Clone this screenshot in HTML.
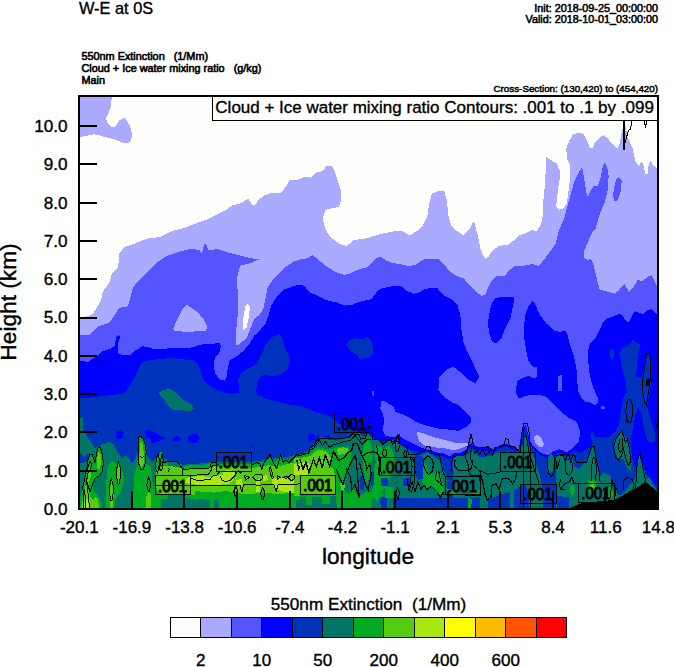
<!DOCTYPE html><html><head><meta charset="utf-8"><title>W-E at 0S</title><style>html,body{margin:0;padding:0;background:#fff}body{width:674px;height:667px;overflow:hidden}svg{display:block}text{font-family:"Liberation Sans",sans-serif;fill:#000}</style></head><body>
<svg width="674" height="667" viewBox="0 0 674 667">
<rect width="674" height="667" fill="#fff"/>
<defs><clipPath id="pc"><rect x="79" y="96" width="579" height="413"/></clipPath></defs>
<g clip-path="url(#pc)">
<rect x="79" y="96" width="579" height="413" fill="#fefefc"/>
<g shape-rendering="crispEdges">
<polygon points="78.0,510.0 78.0,318.2 79.0,318.2 91.5,315.0 93.7,312.5 97.5,306.5 101.2,299.7 102.7,292.2 105.7,287.7 109.5,282.5 111.7,274.2 114.7,271.2 117.7,267.5 119.2,260.0 119.5,253.4 124.0,247.4 136.0,243.0 148.0,238.4 160.0,237.0 172.0,231.0 184.0,228.0 196.0,223.4 208.0,219.0 220.0,213.0 226.0,210.0 232.0,205.4 241.0,203.3 248.4,198.5 251.4,204.0 254.4,205.4 259.0,199.4 265.0,195.0 270.0,193.4 280.5,193.4 286.5,186.0 289.5,180.0 297.0,180.0 304.5,177.0 310.5,177.6 316.5,172.5 322.5,171.0 327.0,165.6 331.5,165.6 334.5,171.0 337.5,180.0 340.5,189.0 341.0,201.0 339.0,207.0 331.5,208.4 325.5,210.0 322.5,219.0 325.5,229.4 330.0,237.0 340.5,244.4 346.5,246.0 354.0,240.0 366.0,238.4 381.0,234.0 393.0,231.5 402.0,231.0 409.4,235.4 417.0,231.0 423.0,225.0 427.4,216.0 429.0,204.0 432.0,193.4 438.0,191.3 444.0,190.4 447.0,201.0 448.4,216.0 451.4,226.4 456.0,230.3 463.4,235.4 470.0,228.5 473.0,222.0 474.5,223.4 477.5,234.0 480.5,249.0 483.5,256.3 485.6,258.8 488.8,256.3 491.0,252.0 498.5,246.0 509.0,244.4 519.5,235.4 526.3,232.9 531.5,230.3 536.8,230.8 541.0,224.5 543.1,214.0 543.5,199.3 545.2,182.5 546.2,157.3 551.5,160.4 556.7,163.6 559.9,170.9 559.5,180.4 557.8,190.9 556.7,201.4 556.1,206.6 558.8,209.8 563.0,208.7 566.6,203.5 568.3,193.0 570.0,178.3 570.4,165.7 567.2,159.4 566.2,148.9 569.3,140.5 573.5,133.8 580.9,132.9 584.0,134.6 587.2,141.5 590.3,148.5 592.4,148.4 594.8,142.4 599.6,137.6 603.8,135.0 608.0,138.8 612.8,144.8 617.0,149.0 619.4,144.8 621.8,131.6 623.0,128.0 624.8,126.2 626.0,127.4 627.2,136.4 629.0,140.0 632.6,148.4 634.4,156.8 636.2,162.8 638.6,165.8 641.6,162.2 643.4,164.0 645.2,173.6 647.6,173.6 648.8,164.0 650.6,161.0 653.6,165.8 657.0,168.2 659.0,168.2 659.0,510.0" fill="#aaaaff" />
<polygon points="79.0,96.0 112.0,96.0 110.5,108.0 106.0,118.5 108.0,124.0 112.0,127.5 116.0,126.0 119.5,120.0 124.0,118.0 127.0,121.0 130.0,126.0 132.4,135.0 131.0,140.0 128.5,142.5 124.0,143.4 115.0,139.5 100.0,135.6 94.0,134.4 88.0,135.6 79.0,137.4" fill="#aaaaff" />
<polygon points="78.0,510.0 78.0,335.0 79.0,335.0 89.2,335.3 93.7,331.2 99.0,326.0 107.2,323.7 111.0,320.7 116.2,312.5 119.2,307.7 127.5,306.5 129.7,300.5 131.2,294.5 132.7,287.7 137.5,282.0 145.0,274.4 151.0,268.4 157.0,262.4 166.0,256.4 178.0,252.0 190.0,249.0 199.0,249.8 202.0,253.4 204.0,244.4 206.4,244.4 208.5,250.4 217.0,249.0 226.0,252.0 238.0,255.0 250.0,258.0 259.0,259.4 250.0,263.3 241.0,265.4 239.3,268.9 237.2,277.3 237.6,292.0 238.2,308.8 237.2,321.4 235.5,334.0 235.5,343.4 237.2,345.5 241.4,342.4 246.6,338.2 250.8,327.7 254.0,319.3 259.2,315.0 263.4,308.8 265.5,298.3 267.6,287.8 272.9,279.4 279.2,273.0 285.5,266.8 293.8,261.5 300.0,259.4 307.3,258.4 312.6,255.2 316.8,258.4 325.2,265.7 335.7,272.0 344.1,274.8 349.3,274.1 356.7,270.0 367.2,267.2 372.4,262.6 376.6,258.0 380.8,256.9 386.1,260.5 392.4,263.0 400.8,264.3 409.2,266.4 415.5,264.7 423.8,259.4 432.2,258.8 438.4,259.4 443.6,263.6 449.9,272.0 457.3,276.2 463.6,278.3 468.8,284.6 475.1,290.9 481.4,295.8 485.0,295.1 487.7,288.8 491.9,280.4 497.2,275.6 504.5,276.2 508.7,271.0 514.0,266.4 522.4,265.7 526.3,265.4 532.6,263.9 538.9,266.0 545.2,258.0 551.5,249.6 555.7,243.3 558.8,230.8 564.1,218.2 569.3,199.3 574.6,180.4 580.9,168.8 582.3,167.4 584.0,178.3 586.1,190.9 587.6,196.8 590.3,190.9 593.5,186.3 598.1,185.6 600.8,177.2 602.9,165.7 604.6,163.2 607.1,166.7 608.6,175.1 608.2,188.8 605.0,201.4 599.8,214.0 595.6,228.7 591.4,233.9 588.2,241.3 584.0,251.7 584.0,258.0 587.7,260.1 590.9,258.8 593.0,262.6 595.1,271.0 597.2,280.4 599.9,289.9 605.6,290.9 610.8,293.0 615.0,293.7 619.2,289.9 622.4,285.7 624.5,284.2 626.6,287.8 629.1,292.0 631.8,288.8 635.0,284.6 638.1,279.4 641.3,281.5 644.4,279.4 648.6,276.2 651.8,275.2 653.9,280.4 657.0,285.7 659.0,285.7 659.0,510.0" fill="#5555ff" />
<polygon points="618.7,177.2 621.8,180.4 620.8,190.9 618.2,199.3 614.9,201.8 613.0,197.2 614.0,187.7 616.1,179.3" fill="#5555ff" />
<polygon points="186.8,305.0 191.0,307.7 197.3,311.9 203.6,319.3 207.4,326.6 205.7,330.8 186.8,331.9 174.2,330.8 173.1,328.7 178.4,317.2 182.6,308.8" fill="#aaaaff" />
<polygon points="247.7,303.5 249.8,306.7 249.3,315.0 246.6,327.7 243.5,329.8 242.8,321.4 244.5,310.9 245.6,305.6" fill="#fefefc" />
<polygon points="78.0,510.0 78.0,360.5 79.0,360.5 88.0,362.0 90.0,360.0 97.5,356.0 102.0,351.5 109.5,349.2 114.7,346.2 115.5,341.0 117.0,335.7 119.2,335.0 120.0,338.0 117.7,344.0 118.5,353.0 121.5,355.2 130.5,355.2 135.0,350.7 142.5,346.2 147.0,347.0 151.5,348.5 159.0,349.2 170.0,348.2 188.9,348.2 201.5,344.5 212.0,343.8 219.3,343.0 221.0,345.5 219.3,352.9 215.1,357.0 213.7,364.4 215.1,373.8 220.4,380.1 225.0,380.6 227.1,376.0 227.7,367.5 229.8,360.2 237.2,356.0 243.5,350.8 249.8,343.4 254.0,336.0 260.3,329.8 265.5,323.5 268.7,315.0 270.8,306.7 277.0,296.2 283.3,289.9 291.7,286.7 300.0,284.6 304.2,285.7 309.4,292.0 318.9,296.6 327.3,300.4 336.7,302.5 345.1,305.6 351.4,305.0 360.9,301.4 371.4,299.3 374.5,295.1 377.7,290.9 382.9,288.2 392.4,286.1 400.8,286.1 407.0,290.9 413.3,293.7 418.6,293.0 424.9,288.8 434.3,287.8 437.3,288.2 443.6,295.1 452.0,299.3 457.3,304.6 460.4,315.0 461.5,329.8 463.6,342.4 467.8,352.9 473.0,363.3 479.3,377.0 475.1,383.3 468.8,380.1 461.5,372.8 453.1,366.5 446.8,369.6 439.4,377.0 438.4,390.0 439.9,391.8 444.7,397.7 452.5,402.5 460.3,406.4 466.2,412.3 471.1,418.1 471.1,423.0 466.2,426.9 458.4,430.8 450.6,429.8 442.8,428.9 439.8,428.9 432.0,426.9 424.2,425.0 414.4,421.1 410.5,418.1 402.7,414.2 395.9,412.3 393.0,406.4 385.2,401.6 381.3,400.6 380.3,408.4 383.2,414.2 384.2,422.0 382.3,429.8 385.2,435.7 393.0,437.6 398.8,435.7 404.7,439.6 412.5,443.5 420.3,447.4 430.0,450.3 439.8,453.2 442.8,453.2 449.6,456.2 454.5,453.2 462.3,452.3 467.2,448.4 470.1,443.5 474.0,445.4 479.8,447.4 489.6,447.4 493.5,449.3 499.3,445.4 505.2,443.5 513.0,446.4 518.8,449.3 520.8,437.6 522.7,427.9 525.6,425.0 528.6,435.7 530.5,441.5 534.4,447.4 540.3,452.3 547.8,455.2 553.6,451.3 559.5,449.3 567.3,452.3 573.1,447.4 579.0,441.5 580.0,431.8 577.0,422.0 569.2,418.1 561.4,412.3 553.6,404.5 545.8,396.7 540.0,394.7 536.4,394.7 526.6,395.7 518.8,398.6 515.9,392.8 516.1,390.0 517.1,381.2 522.4,378.0 528.7,376.0 535.0,378.5 537.0,376.0 537.0,367.5 532.9,366.5 528.7,361.3 526.6,352.9 524.5,340.3 523.8,327.7 525.5,314.0 528.7,305.6 532.9,300.8 536.0,305.6 539.2,314.0 546.5,323.5 553.8,330.8 560.1,331.9 564.3,330.8 565.0,330.0 567.4,335.0 569.1,341.5 572.4,351.4 574.8,359.7 576.5,369.6 577.3,381.1 578.1,391.0 581.4,397.6 584.7,401.7 590.5,402.6 595.5,405.0 597.6,403.4 597.9,398.4 595.5,392.7 592.2,384.4 589.7,374.5 588.4,363.0 588.0,351.4 589.4,344.8 590.9,342.4 596.1,337.1 599.3,330.8 602.4,323.5 607.7,318.2 614.0,316.1 619.2,314.0 622.4,315.0 625.5,320.3 628.7,322.4 631.8,316.1 635.0,310.9 639.2,313.0 643.4,314.0 646.5,310.9 650.7,309.2 653.9,310.9 657.0,315.0 659.0,315.0 659.0,510.0" fill="#0000ff" />
<polygon points="495.1,298.3 503.5,296.6 513.5,296.6 513.5,302.5 510.8,317.2 505.6,327.7 501.4,338.2 496.1,343.4 491.9,341.3 488.8,331.9 488.1,321.4 489.8,310.9 491.9,303.5" fill="#0000ff" />
<polygon points="558.3,376.0 561.5,375.0 562.0,391.0 558.3,391.0" fill="#5555ff" />
<polygon points="601.0,406.5 603.0,405.8 605.0,407.0 604.5,409.0 601.5,409.0" fill="#5555ff" />
<polygon points="371.5,392.0 373.0,390.8 374.5,392.5 374.0,395.7 372.0,395.0" fill="#5555ff" />
<polygon points="417.3,431.8 424.2,433.7 432.0,436.7 439.8,438.6 442.8,439.6 450.6,441.5 458.4,443.5 467.2,442.5 468.1,445.4 460.3,448.4 454.5,450.3 448.6,449.3 442.8,447.4 440.0,448.6 435.9,447.4 424.2,445.4 419.3,441.5 417.3,435.7" fill="#aaaaff" />
<polygon points="533.4,436.7 537.3,434.7 541.2,437.6 543.8,443.5 543.2,447.4 538.3,446.4 535.4,442.5" fill="#aaaaff" />
<polygon points="78.0,510.0 78.0,398.6 79.0,398.6 88.6,397.7 97.4,396.7 106.2,395.7 114.0,394.7 123.7,393.8 127.6,388.9 130.6,385.0 133.0,380.0 137.5,371.0 142.0,362.0 154.0,359.6 170.0,358.1 182.6,359.2 194.1,360.2 198.3,364.4 201.5,373.8 203.6,380.1 208.8,385.4 214.5,388.9 224.2,392.8 232.0,394.4 239.8,392.8 239.3,390.0 238.2,380.1 241.4,372.8 247.7,368.6 256.1,364.4 260.3,357.0 264.5,346.6 270.8,338.2 279.2,334.0 282.3,338.2 284.4,346.6 288.6,355.0 289.6,361.3 287.5,369.6 281.3,373.8 272.9,376.0 262.4,374.9 258.2,380.1 256.1,390.0 257.4,394.7 265.2,398.6 276.9,401.6 288.6,404.5 300.3,406.4 312.0,410.3 315.0,412.3 324.7,414.2 334.5,420.1 344.2,426.9 354.0,430.8 365.7,433.7 373.5,438.6 381.3,441.5 389.1,440.6 396.9,438.6 400.8,443.5 406.6,448.4 416.4,451.3 424.2,452.3 432.0,454.2 435.0,455.5 442.8,456.5 449.6,459.5 454.5,456.5 462.3,455.5 467.2,451.5 470.1,447.0 474.0,448.5 479.8,450.5 489.6,450.5 493.5,452.5 499.3,448.5 505.2,446.5 513.0,449.5 518.8,452.5 520.8,441.0 522.7,431.0 525.6,428.5 528.6,439.0 530.5,444.5 534.4,450.5 540.3,455.5 547.8,458.5 553.6,454.5 559.5,452.5 567.3,455.5 573.1,450.3 580.9,453.2 586.8,449.3 592.6,443.5 591.1,437.6 591.7,430.8 595.6,436.7 602.4,437.6 610.2,436.7 615.0,431.8 618.9,424.0 620.9,410.3 623.8,396.7 626.8,392.7 626.0,382.8 623.5,372.9 621.0,364.6 620.2,353.1 622.7,347.3 628.4,345.7 632.6,340.2 640.0,344.8 637.5,359.7 636.2,376.2 641.6,377.8 644.1,367.9 645.8,354.7 649.9,354.7 651.5,371.2 650.7,386.1 648.2,399.3 647.2,406.5 649.7,416.7 654.8,432.0 654.8,442.2 648.5,442.2 644.6,432.0 642.1,416.7 638.3,406.5 635.7,414.2 633.2,427.0 630.5,439.3 631.2,449.7 632.7,458.6 634.2,464.5 637.2,470.4 643.1,471.9 649.0,476.4 652.0,482.3 656.4,485.3 659.0,487.0 659.0,487.0 659.0,510.0" fill="#0033bb" />
<polygon points="346.2,344.5 349.3,340.3 354.6,338.2 363.0,339.2 367.2,337.1 372.4,342.4 372.8,353.9 369.3,357.5 364.0,358.1 360.9,360.8 356.7,355.0 350.4,350.8" fill="#0033bb" />
<polygon points="610.3,349.8 613.6,349.0 614.4,354.7 612.4,360.5 610.3,356.4" fill="#0033bb" />
<polygon points="307.5,436.0 310.0,433.8 314.0,434.0 316.0,437.0 314.0,440.4 309.5,440.6" fill="#0000ff" />
<polygon points="250.5,445.5 252.0,444.8 253.2,446.3 252.0,447.8 250.6,447.2" fill="#0000ff" />
<polygon points="326.0,436.5 329.0,436.0 330.0,438.5 327.0,439.5" fill="#0000ff" />
<polygon points="116.9,431.8 120.8,428.9 123.7,431.8 122.8,437.6 117.9,439.6 115.9,436.7" fill="#0000ff" />
<polygon points="145.2,430.8 148.1,429.4 152.0,430.8 156.9,433.7 162.7,436.7 166.6,438.0 160.8,440.6 154.9,442.5 152.0,443.5 150.0,438.6 146.2,437.6" fill="#0000ff" />
<polygon points="172.5,438.0 177.3,436.0 181.2,438.6 177.3,441.5 173.4,440.6" fill="#0000ff" />
<polygon points="188.1,436.7 192.9,433.7 197.8,434.7 199.8,438.6 196.8,442.5 192.0,443.5 188.1,440.6" fill="#0000ff" />
<polygon points="158.8,392.8 162.7,389.9 170.5,388.9 176.4,392.8 184.2,400.6 192.0,404.5 193.9,408.4 190.0,411.3 180.3,410.0 172.5,410.3 168.6,406.4 164.7,400.6 160.8,396.7" fill="#007766" />
<polygon points="78.0,510.0 78.0,417.2 79.0,417.2 82.8,418.1 83.2,430.8 87.7,437.6 93.5,445.4 94.5,448.4 100.3,445.4 109.1,441.5 114.0,444.5 116.9,451.3 121.8,458.1 125.7,455.2 128.6,458.1 132.5,463.0 135.4,459.1 138.4,449.3 139.3,437.6 142.3,438.6 145.2,449.3 147.1,457.1 153.0,462.0 155.9,459.1 160.8,451.3 162.7,458.1 168.6,461.0 178.3,461.0 182.2,464.9 192.0,464.0 205.0,463.0 206.7,462.6 214.5,462.0 251.5,462.0 259.3,461.0 269.1,459.1 276.9,458.1 284.7,457.5 292.5,455.6 300.3,453.2 308.1,451.3 312.0,445.4 319.8,438.6 320.8,436.7 328.6,439.6 336.4,440.6 344.2,438.6 351.1,436.7 354.0,433.7 358.9,432.8 363.7,436.7 368.6,433.7 372.5,437.6 379.3,441.5 385.2,443.5 391.0,440.6 397.3,438.8 400.8,444.5 406.6,449.4 412.5,453.3 418.3,456.2 427.1,452.0 432.0,454.8 439.8,461.0 442.0,463.0 443.8,470.8 446.7,476.6 447.0,510.0" fill="#007766" />
<polygon points="452.5,510.0 452.5,460.0 456.4,456.2 468.1,455.2 471.1,449.3 474.0,452.3 479.8,457.1 489.6,456.2 495.4,453.2 499.3,452.3 509.1,451.3 514.9,452.3 520.8,449.3 523.7,441.5 525.6,432.8 527.6,441.5 531.5,451.3 534.4,459.1 537.3,468.8 540.3,476.6 542.2,486.4 543.2,510.0" fill="#007766" />
<polygon points="79.0,451.3 84.7,457.1 88.6,453.2 90.6,455.2 86.7,462.0 79.0,463.0" fill="#0033bb" />
<polygon points="555.6,510.0 556.6,494.2 557.5,472.7 559.5,463.0 565.3,459.1 572.2,457.1 574.1,466.9 579.0,468.8 584.8,463.0 589.7,455.2 592.6,447.4 595.6,455.2 597.5,466.9 600.4,476.6 604.3,472.7 609.2,474.7 612.1,480.5 617.0,490.3 619.9,496.1 625.8,490.3 631.6,482.5 635.5,478.6 650.0,478.0 659.0,495.0 659.0,510.0" fill="#007766" />
<polygon points="621.9,431.8 625.8,437.6 628.7,443.5 629.7,453.2 631.6,463.0 630.6,470.8 626.7,466.9 623.8,459.1 618.0,459.1 615.0,451.3 614.1,441.5 618.0,435.7" fill="#007766" />
<polygon points="639.4,455.2 642.3,463.0 645.3,472.7 646.2,481.5 637.5,487.3 635.5,478.6 636.5,466.9" fill="#007766" />
<polygon points="547.5,458.5 550.5,452.5 554.0,459.0 553.0,470.0 550.0,474.0 548.0,468.0" fill="#007766" />
<polygon points="556.0,457.0 561.0,453.5 565.0,458.0 565.0,480.0 560.0,490.0 556.0,482.0" fill="#007766" />
<polygon points="447.0,497.0 454.5,500.0 466.0,499.0 479.8,497.0 487.6,500.0 499.3,495.0 513.0,491.0 518.8,487.0 526.0,484.0 530.0,510.0 447.0,510.0" fill="#0033bb" />
<polygon points="79.3,509.1 80.0,497.1 83.3,487.8 85.3,478.4 86.7,469.1 88.0,461.0 89.3,455.7 91.4,455.0 93.4,458.4 95.4,463.7 96.7,455.7 98.0,447.7 100.0,447.0 102.0,454.4 103.4,461.0 102.7,470.4 100.0,475.7 95.4,479.7 92.7,483.7 92.7,489.1 96.7,494.4 100.7,499.8 102.0,509.1" fill="#00aa22" />
<polygon points="105.4,509.1 106.0,491.8 106.7,475.7 108.0,465.1 112.7,461.0 116.7,463.7 120.7,467.7 123.4,474.4 124.1,481.1 122.1,487.8 120.7,493.1 118.1,494.4 115.4,499.8 114.0,509.1" fill="#00aa22" />
<polygon points="132.7,509.1 133.4,491.8 134.1,475.7 136.7,465.1 138.1,455.7 138.7,442.4 140.1,436.3 142.8,438.4 144.8,445.0 146.1,453.0 145.4,462.4 147.4,465.1 150.8,466.4 152.1,475.7 152.8,486.4 154.1,491.8 154.8,481.1 154.8,465.1 156.8,461.0 158.1,453.7 161.4,451.7 163.4,458.4 164.8,462.4 168.0,463.1 168.0,509.1" fill="#00aa22" />
<polygon points="184.2,465.9 195.9,464.9 205.0,464.5 205.0,508.4 184.2,508.4" fill="#00aa22" />
<polygon points="80.7,509.1 83.3,497.1 85.3,487.8 86.7,478.4 88.0,470.4 90.0,465.1 91.4,470.4 91.4,475.7 89.3,481.1 88.7,487.8 90.0,495.8 92.7,499.8 95.4,497.1 98.0,499.8 99.4,509.1" fill="#55cc11" />
<polygon points="96.7,459.7 98.7,451.7 100.7,454.4 101.4,462.4 99.4,469.1 96.7,467.7" fill="#55cc11" />
<polygon points="110.0,509.1 109.8,494.4 110.7,483.7 112.0,478.4 113.4,483.7 113.8,494.4 113.0,502.4 112.4,509.1" fill="#55cc11" />
<polygon points="116.7,465.1 118.7,462.4 120.7,469.1 120.5,478.4 118.7,483.7 116.7,478.4 116.1,470.4" fill="#55cc11" />
<polygon points="139.4,454.4 140.1,443.7 142.1,441.0 143.4,449.0 144.1,458.4 143.4,465.1 141.4,467.7 139.4,463.7" fill="#55cc11" />
<polygon points="145.4,509.1 146.1,497.1 148.1,491.8 150.8,494.4 151.4,509.1" fill="#55cc11" />
<polygon points="155.9,472.7 158.8,466.9 166.6,465.9 176.4,466.9 184.2,468.8 195.9,467.8 205.0,467.8 205.0,494.2 192.0,495.1 176.4,494.2 166.6,495.1 158.8,494.2 155.9,486.4" fill="#55cc11" />
<polygon points="84.0,509.1 84.7,501.1 86.7,498.4 88.7,501.1 89.3,509.1" fill="#aae611" />
<polygon points="160.8,499.0 176.4,498.1 192.0,498.6 205.0,499.6 205.0,508.4 160.8,508.4" fill="#007766" />
<polygon points="195.0,464.5 204.7,464.5 210.6,463.0 216.4,463.9 251.5,463.9 257.4,463.0 265.2,462.0 270.0,457.1 273.0,463.0 278.8,459.1 280.8,455.2 282.7,462.0 290.5,460.0 296.4,458.1 304.2,456.2 310.0,452.3 313.9,450.3 319.8,448.4 325.0,447.8 325.0,508.4 195.0,508.4" fill="#00aa22" />
<polygon points="195.0,468.8 208.6,468.4 212.5,465.9 218.4,466.9 251.5,467.8 261.3,466.9 269.1,464.9 276.9,466.9 284.7,464.9 292.5,463.0 298.3,462.0 302.2,466.9 308.1,468.8 312.0,463.0 315.9,461.0 319.8,459.1 325.0,457.1 325.0,492.6 312.0,492.2 300.3,491.8 288.6,493.2 276.9,494.2 263.2,492.2 253.5,493.8 243.7,494.2 234.0,491.8 224.2,491.2 214.5,492.6 204.7,491.8 195.0,491.2" fill="#55cc11" />
<polygon points="186.0,478.0 190.0,477.0 200.0,476.0 210.0,477.0 222.0,475.0 232.0,476.0 234.0,480.0 228.0,484.0 215.0,485.0 200.0,485.0 190.0,484.0 186.0,483.0" fill="#aae611" />
<polygon points="222.0,471.0 230.0,470.0 236.0,473.0 232.0,477.0 224.0,476.0" fill="#aae611" />
<polygon points="272.0,479.0 280.0,477.0 290.0,478.0 297.0,480.0 298.0,488.0 293.0,493.0 283.0,492.0 275.0,488.0 272.0,484.0" fill="#aae611" />
<polygon points="256.0,480.0 260.0,479.0 260.0,492.0 256.0,492.0" fill="#aae611" />
<polygon points="236.0,480.0 242.0,479.0 243.0,486.0 237.0,487.0" fill="#aae611" />
<polygon points="262.0,476.0 267.0,475.0 268.0,480.0 263.0,481.0" fill="#aae611" />
<polygon points="195.0,500.0 202.8,499.0 209.6,500.4 209.6,508.4 195.0,508.4" fill="#007766" />
<polygon points="213.5,500.4 218.4,500.0 218.8,508.4 213.5,508.4" fill="#007766" />
<polygon points="296.4,500.4 304.2,499.6 319.8,500.0 320.1,508.4 296.4,508.4" fill="#007766" />
<polygon points="300.0,456.5 304.5,454.7 308.9,453.9 313.4,449.5 317.8,447.3 323.7,448.7 329.7,449.5 335.6,447.3 340.1,446.5 344.5,446.5 349.0,447.3 351.2,454.7 350.4,463.6 347.5,469.5 344.5,476.9 343.0,484.3 344.5,490.3 349.0,494.7 350.4,508.8 337.1,508.8 335.6,496.2 300.0,496.2 294.1,496.2 294.1,456.9" fill="#00aa22" />
<polygon points="362.3,454.7 363.8,442.8 366.8,437.6 369.7,439.8 372.0,447.3 372.7,456.2 371.2,462.1 369.7,474.0 367.5,484.3 365.3,476.9 363.1,466.5" fill="#00aa22" />
<polygon points="374.2,469.5 377.2,454.7 378.6,445.8 382.3,447.3 383.1,454.7 381.6,469.5 383.1,484.3 380.1,496.2 377.2,502.2 374.2,496.2 372.7,484.3" fill="#00aa22" />
<polygon points="349.0,494.7 351.2,487.3 354.9,490.3 358.6,497.7 362.3,494.7 366.8,490.3 369.7,493.2 372.7,488.8 377.2,487.3 383.1,488.8 383.1,496.2 372.7,497.7 371.2,508.8 359.3,508.8 350.4,508.8" fill="#00aa22" />
<polygon points="294.1,458.4 300.0,458.4 305.9,456.9 310.4,456.2 314.8,451.7 319.3,449.5 325.2,451.0 329.7,454.7 331.9,460.6 329.7,466.5 334.1,469.5 334.9,475.4 336.4,484.3 335.6,494.7 300.0,495.5 294.1,495.5" fill="#55cc11" />
<polygon points="337.1,448.7 343.0,447.3 348.2,448.0 349.0,452.4 343.0,453.9 337.8,455.4" fill="#55cc11" />
<polygon points="340.4,484.3 343.0,481.4 345.3,485.8 343.8,490.3 340.8,489.5" fill="#55cc11" />
<polygon points="294.1,463.9 300.0,463.6 304.5,462.1 308.9,462.8 311.1,468.0 308.9,474.0 304.5,476.2 300.0,475.4 294.1,475.1" fill="#aae611" />
<polygon points="359.3,478.4 362.3,475.4 364.5,484.3 363.1,491.8 360.1,488.8" fill="#0033bb" />
<polygon points="380.1,497.7 387.5,496.2 386.8,508.8 380.9,508.8" fill="#0033bb" />
<polygon points="371.2,474.0 374.2,469.5 373.4,487.3 371.2,484.3" fill="#0033bb" />
<polygon points="300.0,496.5 335.6,496.5 337.1,508.8 300.0,508.8" fill="#007766" />
<polygon points="305.9,496.5 308.9,494.7 311.9,496.5 311.9,505.1 305.9,505.1" fill="#00aa22" />
<polygon points="322.3,496.5 325.2,494.0 329.7,496.5 329.7,503.6 322.3,503.6" fill="#00aa22" />
<polygon points="382.3,449.3 389.1,445.4 393.0,451.3 394.9,463.0 391.0,474.7 385.2,486.4 381.3,494.2 379.3,478.6 380.3,463.0" fill="#00aa22" />
<polygon points="424.0,462.6 426.9,467.1 429.9,474.5 434.3,473.0 437.3,468.6 440.3,474.5 442.5,481.9 443.2,489.3 440.3,492.3 434.3,489.3 429.9,486.4 425.4,487.9 422.5,483.4 421.0,474.5 421.7,467.1" fill="#00aa22" />
<polygon points="375.0,444.8 378.7,446.3 380.9,452.3 380.2,459.7 376.5,461.2 375.0,459.7" fill="#00aa22" />
<polygon points="385.2,486.4 393.0,488.3 393.0,508.4 385.2,508.4" fill="#00aa22" />
<polygon points="415.1,455.2 422.5,456.0 422.8,479.0 418.0,479.7 415.1,474.5" fill="#0033bb" />
<polygon points="403.2,477.5 410.6,477.5 410.6,486.4 403.2,486.4" fill="#0033bb" />
<polygon points="380.9,477.5 388.4,477.5 388.4,486.4 380.9,486.4" fill="#0033bb" />
<polygon points="375.0,486.4 382.4,487.1 382.4,496.8 375.0,496.8" fill="#00aa22" />
<polygon points="386.9,486.4 392.8,487.1 392.8,496.8 386.9,496.8" fill="#00aa22" />
<polygon points="380.9,498.0 404.7,497.5 470.0,497.5 470.0,508.6 380.9,508.6" fill="#0033bb" />
<polygon points="386.9,497.5 392.8,497.5 392.8,508.6 386.9,508.6" fill="#007766" />
<polygon points="435.0,478.6 438.9,480.5 442.8,486.4 444.7,491.2 440.8,494.2 435.0,493.2" fill="#00aa22" />
<polygon points="446.7,488.3 454.5,490.3 456.4,494.2 448.6,494.2" fill="#00aa22" />
<polygon points="470.1,491.2 479.8,490.3 478.9,494.2 471.1,495.1" fill="#00aa22" />
<polygon points="468.1,498.1 472.0,499.0 471.1,508.4 468.1,508.4" fill="#00aa22" />
<polygon points="479.8,496.1 487.6,496.5 488.0,508.4 479.8,508.4" fill="#007766" />
<polygon points="510.0,490.3 513.9,490.3 513.9,508.4 510.0,508.4" fill="#007766" />
<polygon points="570.2,486.4 573.1,484.4 575.1,490.3 573.1,496.1 570.2,494.2" fill="#00aa22" />
<polygon points="587.8,480.5 592.6,478.6 596.5,482.5 595.6,490.3 590.7,494.2 587.8,488.3" fill="#00aa22" />
<polygon points="608.2,488.3 611.2,486.4 613.1,494.2 611.2,500.0 608.2,498.1" fill="#00aa22" />
<polygon points="591.1,482.5 593.6,481.5 594.6,486.4 592.2,489.3 590.3,486.4" fill="#55cc11" />
<polygon points="556.6,496.1 569.2,497.1 569.2,508.4 556.6,508.4" fill="#0033bb" />
<polygon points="565.0,510.0 579.0,503.9 590.7,502.0 602.4,501.0 614.1,500.0 621.9,496.1 629.7,491.2 637.5,487.3 645.3,481.5 651.1,486.4 659.0,492.5 659.0,510.0" fill="#000" />
<polyline points="83.3,509.1 84.0,497.1 82.7,487.8 84.7,478.4 86.7,469.1 88.0,459.7 90.0,454.4 92.0,454.4 93.8,458.4 94.7,463.1 96.0,457.0 98.0,447.7 99.4,446.4 101.4,450.4 102.7,457.0 103.4,463.7 102.0,471.7 99.4,475.7 95.4,478.4 92.7,483.7 90.0,491.8 88.0,485.1 86.0,478.4" fill="none" stroke="#000" stroke-width="1"/>
<polyline points="89.3,509.1 88.7,497.1 87.3,487.8 86.7,481.1 88.0,473.1 90.7,469.1 91.4,463.7 90.0,461.0 88.7,465.1 86.7,470.4" fill="none" stroke="#000" stroke-width="1"/>
<polyline points="86.0,509.1 85.3,497.1 84.0,489.1" fill="none" stroke="#000" stroke-width="1"/>
<polygon points="118.5,462.4 120.5,469.0 121.0,474.5 119.0,484.4 118.0,484.4 116.1,474.5 116.6,469.0" fill="none" stroke="#000" stroke-width="1"/>
<polygon points="111.4,479.1 113.1,485.5 113.6,490.8 111.9,500.4 110.9,500.4 109.1,490.8 109.6,485.5" fill="none" stroke="#000" stroke-width="1"/>
<polygon points="138.7,437.0 141.4,436.3 144.8,442.4 146.1,451.7 145.4,462.4 143.4,469.1 140.8,469.1 138.7,463.7 138.1,451.7" fill="none" stroke="#000" stroke-width="1"/>
<polyline points="139.4,455.7 142.1,457.7 144.1,455.7" fill="none" stroke="#000" stroke-width="1"/>
<polygon points="148.8,477.1 150.1,481.5 150.6,485.1 149.3,491.8 148.3,491.8 146.9,485.1 147.4,481.5" fill="none" stroke="#000" stroke-width="1"/>
<polygon points="155.4,466.4 156.8,457.0 158.1,453.7 159.4,459.7 158.8,469.1 157.4,473.1 156.1,470.4" fill="none" stroke="#000" stroke-width="1"/>
<polygon points="159.7,469.1 160.8,459.7 162.1,453.7 163.2,459.7 162.4,467.7 161.0,471.1" fill="none" stroke="#000" stroke-width="1"/>
<polyline points="163.4,462.7 167.4,461.4 176.7,461.4 179.4,464.0 182.0,468.0 183.4,469.1 208.7,468.7 210.7,466.0 211.4,462.0 216.1,462.0" fill="none" stroke="#000" stroke-width="1"/>
<polyline points="182.0,468.0 182.0,475.8" fill="none" stroke="#000" stroke-width="1"/>
<polyline points="190.1,476.0 196.7,475.0 208.7,474.0 211.4,470.0 212.1,466.0 216.8,465.4 219.4,464.7" fill="none" stroke="#000" stroke-width="1"/>
<polyline points="191.4,478.7 196.7,480.1 203.4,480.1 210.1,479.4 212.8,476.0 216.8,475.0 219.4,472.0" fill="none" stroke="#000" stroke-width="1"/>
<polyline points="220.1,476.0 222.1,480.1 224.8,481.4 230.1,480.7 232.8,477.4 235.4,475.0 235.4,471.4" fill="none" stroke="#000" stroke-width="1"/>
<polyline points="168.0,468.0 169.4,469.6 168.0,471.4" fill="none" stroke="#000" stroke-width="1"/>
<polygon points="235.4,486.7 234.1,493.4 236.1,497.4 237.4,493.4 236.8,486.7" fill="none" stroke="#000" stroke-width="1"/>
<polyline points="251.6,465.4 256.7,462.7 260.0,464.0 262.0,469.4 263.4,464.0 266.0,460.0 270.1,454.0 272.7,461.4 276.7,468.7 280.7,454.7 283.4,462.7 286.1,460.0 288.7,462.7 292.8,458.7 296.8,454.7 300.8,455.4 304.8,454.0 308.8,453.4 310.1,448.0 314.1,445.3 316.8,440.0 318.1,436.0" fill="none" stroke="#000" stroke-width="1"/>
<polygon points="270.1,466.7 272.1,472.0 273.4,477.4 272.1,478.7 270.7,474.7 269.4,469.4" fill="none" stroke="#000" stroke-width="1"/>
<polyline points="296.8,460.0 298.8,469.4 300.0,466.7" fill="none" stroke="#000" stroke-width="1.2"/>
<polygon points="244.7,475.4 249.4,477.4 245.4,480.1" fill="none" stroke="#000" stroke-width="1"/>
<polygon points="252.7,477.4 256.0,474.0 262.0,474.7 262.7,478.7 259.4,480.7 255.4,480.1" fill="none" stroke="#000" stroke-width="1"/>
<polygon points="277.4,475.4 280.1,477.4 277.4,479.4" fill="none" stroke="#000" stroke-width="1"/>
<polygon points="283.4,477.4 286.1,476.0 288.1,477.4 286.1,478.7" fill="none" stroke="#000" stroke-width="1"/>
<polygon points="288.7,476.7 291.4,474.4 294.8,476.0 294.8,478.7 291.4,480.7 288.7,478.1" fill="none" stroke="#000" stroke-width="1"/>
<polyline points="155.2,485.0 240.0,485.0 242.0,492.1 243.4,484.5 251.4,484.9 260.7,485.1 268.7,484.1 274.1,485.1 276.1,491.4 278.1,485.1 280.7,484.1 288.7,484.9 295.4,484.9 300.1,483.4" fill="none" stroke="#000" stroke-width="1"/>
<polygon points="262.7,487.4 264.2,491.0 264.7,494.0 263.2,499.4 262.2,499.4 260.7,494.0 261.2,491.0" fill="none" stroke="#000" stroke-width="1"/>
<polygon points="235.7,486.1 237.2,489.3 237.7,491.9 236.2,496.7 235.2,496.7 233.7,491.9 234.2,489.3" fill="none" stroke="#000" stroke-width="1"/>
<polyline points="230.0,480.1 234.0,477.4 236.0,473.4 238.0,470.7 240.7,473.4 243.4,471.0" fill="none" stroke="#000" stroke-width="1"/>
<polyline points="300.0,453.9 308.2,453.2 310.4,447.3 314.8,444.3 317.8,439.1 328.2,438.4 335.6,439.1 349.0,437.6 352.7,433.9 359.3,434.6 360.8,439.1 365.3,438.4 367.5,429.5 369.7,425.0 371.2,428.0 372.7,439.1 380.1,439.8 382.3,444.3 389.0,439.8 395.0,442.8 400.0,433.9" fill="none" stroke="#000" stroke-width="1"/>
<polyline points="308.9,450.2 313.4,448.7 316.3,444.3 319.3,439.8 322.3,445.8 325.2,441.3 329.7,447.3 334.1,444.3 338.6,443.5 344.5,441.3 350.4,440.6 354.9,435.4 358.6,439.8 362.3,444.3 366.8,439.8 371.2,439.1" fill="none" stroke="#000" stroke-width="1"/>
<polyline points="300.0,459.1 303.0,469.5 305.9,462.1 308.9,472.5 313.4,459.1 316.3,466.5 319.3,457.6 322.3,468.0 325.2,454.7 329.7,466.5 333.4,451.0 338.6,460.6 344.5,457.6 347.5,453.2 351.9,449.5 353.4,443.5 357.1,443.5 359.3,448.7 362.3,456.2 366.8,453.2 372.7,451.7 377.2,453.2 380.1,459.1" fill="none" stroke="#000" stroke-width="1.4"/>
<polyline points="336.4,469.5 339.3,476.9 343.0,484.3 346.0,474.0 350.4,463.6 355.6,454.7 357.1,469.5 359.3,497.7 354.9,484.3 351.9,490.3 350.4,476.9 346.0,468.0" fill="none" stroke="#000" stroke-width="1.2"/>
<polyline points="359.3,462.1 362.3,474.0 365.3,484.3 368.2,490.3 371.2,474.0 369.7,463.6 366.8,469.5 365.3,462.1 362.3,456.2" fill="none" stroke="#000" stroke-width="1.2"/>
<polyline points="380.1,459.1 381.3,476.2" fill="none" stroke="#000" stroke-width="1"/>
<polyline points="375.0,439.6 380.9,439.6 383.2,444.8 386.9,440.4 389.8,438.2 392.8,444.8 395.8,438.9 398.0,434.5 400.2,444.8 406.9,446.3 408.4,454.5 414.3,454.5 419.5,453.7 424.0,450.8 426.9,446.3 429.9,447.1 432.1,453.7 439.5,454.5 441.0,462.6 443.2,473.0 444.7,476.0" fill="none" stroke="#000" stroke-width="1"/>
<ellipse cx="397.3" cy="446.3" rx="1.8" ry="5.2" fill="none" stroke="#000" stroke-width="1" transform="rotate(0 397.3 446.3)"/>
<ellipse cx="384.6" cy="453.0" rx="1.8" ry="3.7" fill="none" stroke="#000" stroke-width="1" transform="rotate(0 384.6 453.0)"/>
<ellipse cx="405.4" cy="453.7" rx="1.5" ry="3.0" fill="none" stroke="#000" stroke-width="1" transform="rotate(0 405.4 453.7)"/>
<polygon points="424.0,459.7 427.7,456.0 431.4,458.2 433.6,464.1 432.1,471.5 428.4,474.5 425.4,470.1 423.2,464.1" fill="none" stroke="#000" stroke-width="1.2"/>
<polygon points="410.6,456.7 412.1,467.1 410.6,480.4 408.4,489.3 411.4,492.3 414.3,483.4 415.1,471.5 413.6,459.7" fill="none" stroke="#000" stroke-width="1"/>
<polyline points="406.9,479.0 409.1,490.8 412.1,481.9 415.1,491.6 418.0,481.9 421.0,489.3 424.0,484.9 426.9,489.3 431.4,486.4 437.3,492.3 440.3,498.2 443.2,492.3 444.7,495.3" fill="none" stroke="#000" stroke-width="1.2"/>
<polygon points="435.1,479.0 437.3,470.1 439.5,473.0 440.3,480.4 442.5,486.4 440.3,483.4 436.6,480.4" fill="none" stroke="#000" stroke-width="1"/>
<polyline points="452.2,473.0 451.4,462.6 453.6,456.7 458.1,455.2 464.0,455.2 467.0,449.3 469.2,441.9 471.4,434.5 472.9,443.4 475.0,446.3" fill="none" stroke="#000" stroke-width="1"/>
<polyline points="455.1,459.7 454.4,465.6 458.1,470.1 467.0,470.8 471.4,468.6 472.9,459.7" fill="none" stroke="#000" stroke-width="1"/>
<polyline points="376.5,444.8 378.0,453.7 379.5,464.1 378.0,473.0 380.2,476.0" fill="none" stroke="#000" stroke-width="1"/>
<polygon points="397.3,487.9 395.8,493.8 398.0,499.7 399.5,492.3" fill="none" stroke="#000" stroke-width="1"/>
<polyline points="465.0,455.6 468.0,446.7 470.9,434.8 472.4,439.3 471.7,446.7 473.9,448.2 488.7,446.7 489.5,451.9 493.9,451.9 494.7,447.4 503.6,446.7 505.8,438.5 508.0,439.3 509.5,446.7 514.0,446.0 515.4,448.2 520.6,452.6 521.4,434.8 523.6,423.7 527.3,423.7 529.5,434.8 530.3,452.6" fill="none" stroke="#000" stroke-width="1"/>
<polyline points="523.6,428.9 523.6,507.5" fill="none" stroke="#000" stroke-width="1"/>
<polyline points="530.3,452.6 530.3,507.5" fill="none" stroke="#000" stroke-width="1"/>
<polyline points="525.1,433.4 527.3,440.8 528.8,452.6 537.7,479.3 539.2,483.5" fill="none" stroke="#000" stroke-width="1"/>
<polyline points="471.7,446.7 470.2,457.1 472.4,464.5 479.8,470.4 487.3,474.2 494.7,473.4 500.6,471.9" fill="none" stroke="#000" stroke-width="1"/>
<polyline points="479.8,470.4 482.8,482.3 485.0,494.2 487.3,500.1 491.0,497.2 491.7,485.3 496.2,483.8 499.1,489.7 502.1,479.3 505.1,477.9 509.5,479.3 512.5,483.8 515.4,479.3 516.9,471.9" fill="none" stroke="#000" stroke-width="1.2"/>
<polyline points="473.9,454.1 476.9,449.7 479.8,454.1 482.8,449.7 485.8,455.6 488.7,451.9 492.4,454.9 494.7,449.7" fill="none" stroke="#000" stroke-width="1"/>
<polyline points="547.3,455.6 548.1,471.9 551.1,477.1 554.0,471.9 554.0,455.6 560.0,454.9 565.0,454.4" fill="none" stroke="#000" stroke-width="1"/>
<polyline points="555.5,457.1 557.0,469.0 560.0,458.6" fill="none" stroke="#000" stroke-width="1"/>
<polyline points="560.7,479.3 559.2,485.3 561.4,489.7 565.0,489.0" fill="none" stroke="#000" stroke-width="1"/>
<polyline points="465.0,455.6 468.0,464.5 469.5,474.9 479.8,475.6 480.6,495.7 465.0,496.0" fill="none" stroke="#000" stroke-width="1"/>
<polyline points="560.0,455.6 563.0,454.9 565.2,461.5 566.7,455.6 568.9,454.9 570.4,461.5 572.6,454.9 574.8,455.6 576.3,462.3 586.7,462.3 588.9,455.6 591.2,446.7 594.1,446.7 595.6,455.6 597.1,463.0 599.3,471.9 600.1,482.3" fill="none" stroke="#000" stroke-width="1"/>
<polygon points="565.9,460.1 565.2,470.4 568.2,475.6 571.9,471.9 572.6,464.5 570.4,459.3" fill="none" stroke="#000" stroke-width="1"/>
<polyline points="591.2,480.8 591.9,464.5 593.4,457.1 595.6,458.6 596.4,469.0 595.6,480.8" fill="none" stroke="#000" stroke-width="1"/>
<polygon points="615.6,457.1 613.4,446.7 616.4,437.8 621.6,431.1 623.8,436.3 625.3,442.3 627.5,439.3 629.7,449.7 630.5,461.5 628.2,466.0 626.0,458.6 623.8,449.7 620.8,457.1 618.6,460.1" fill="none" stroke="#000" stroke-width="1"/>
<polyline points="619.3,439.3 618.6,449.7 620.8,452.6 623.1,448.2 622.3,437.8" fill="none" stroke="#000" stroke-width="1"/>
<polyline points="635.7,491.2 636.4,471.9 637.9,457.1 640.1,454.9 642.3,464.5 645.3,479.3 646.1,483.8" fill="none" stroke="#000" stroke-width="1"/>
<polyline points="623.1,489.7 623.8,480.8 627.5,477.1 632.0,479.3 634.2,485.3 633.4,489.7" fill="none" stroke="#000" stroke-width="1"/>
<polyline points="560.0,489.7 564.5,483.8 568.9,482.3 571.9,477.1 574.1,483.8 578.1,483.8" fill="none" stroke="#000" stroke-width="1"/>
<polyline points="614.9,497.2 615.6,486.8 618.6,494.2" fill="none" stroke="#000" stroke-width="1"/>
<polyline points="610.4,497.2 611.9,479.3 613.4,486.8" fill="none" stroke="#000" stroke-width="1"/>
<polyline points="626.0,420.0 627.5,422.2 630.5,422.2 632.0,420.0" fill="none" stroke="#000" stroke-width="1"/>
<polygon points="647.5,353.5 649.5,354.0 650.8,362.0 651.0,373.0 649.5,386.0 646.5,405.0 644.5,402.0 642.3,390.0 643.0,378.0 645.0,365.0 646.3,356.0" fill="none" stroke="#000" stroke-width="1"/>
<polygon points="646.7,380.0 648.5,380.0 648.5,385.1 646.7,385.1" fill="none" stroke="#000" stroke-width="2"/>
<ellipse cx="629.3" cy="410.9" rx="3.4" ry="11.5" fill="none" stroke="#000" stroke-width="1" transform="rotate(0 629.3 410.9)"/>
<polyline points="656.1,409.1 655.4,419.3 656.6,428.2" fill="none" stroke="#000" stroke-width="1"/>
<polygon points="623.1,120.8 624.3,120.8 624.1,149.6 623.2,149.6" fill="none" stroke="#000" stroke-width="1"/>
<polyline points="624.8,143.6 628.4,130.4 630.8,129.2 631.4,120.8" fill="none" stroke="#000" stroke-width="1"/>
<polyline points="644.6,120.8 645.4,128.0 647.0,120.8" fill="none" stroke="#000" stroke-width="1"/>
<rect x="216.1" y="452.4" width="35.5" height="18.8" fill="none" stroke="#000" stroke-width="1"/>
<text transform="translate(233.4,468.3) scale(0.88,1)" font-size="17" text-anchor="middle" stroke="#000" stroke-width="1.15" shape-rendering="auto">.001</text>
<rect x="155.2" y="475.6" width="35.5" height="18.8" fill="none" stroke="#000" stroke-width="1"/>
<text transform="translate(172.6,491.5) scale(0.88,1)" font-size="17" text-anchor="middle" stroke="#000" stroke-width="1.15" shape-rendering="auto">.001</text>
<rect x="300.4" y="475.3" width="35.5" height="18.8" fill="none" stroke="#000" stroke-width="1"/>
<text transform="translate(317.8,491.2) scale(0.88,1)" font-size="17" text-anchor="middle" stroke="#000" stroke-width="1.15" shape-rendering="auto">.001</text>
<rect x="334.2" y="413.6" width="35.5" height="18.8" fill="none" stroke="#000" stroke-width="1"/>
<text transform="translate(351.6,429.5) scale(0.88,1)" font-size="17" text-anchor="middle" stroke="#000" stroke-width="1.15" shape-rendering="auto">.001</text>
<rect x="379.1" y="457.1" width="35.5" height="18.8" fill="none" stroke="#000" stroke-width="1"/>
<text transform="translate(396.5,473.0) scale(0.88,1)" font-size="17" text-anchor="middle" stroke="#000" stroke-width="1.15" shape-rendering="auto">.001</text>
<rect x="445.1" y="476.0" width="35.5" height="18.8" fill="none" stroke="#000" stroke-width="1"/>
<text transform="translate(462.4,491.9) scale(0.88,1)" font-size="17" text-anchor="middle" stroke="#000" stroke-width="1.15" shape-rendering="auto">.001</text>
<rect x="500.2" y="452.4" width="35.5" height="18.8" fill="none" stroke="#000" stroke-width="1"/>
<text transform="translate(517.6,468.3) scale(0.88,1)" font-size="17" text-anchor="middle" stroke="#000" stroke-width="1.15" shape-rendering="auto">.001</text>
<rect x="520.5" y="484.2" width="35.5" height="18.8" fill="none" stroke="#000" stroke-width="1"/>
<text transform="translate(537.9,500.1) scale(0.88,1)" font-size="17" text-anchor="middle" stroke="#000" stroke-width="1.15" shape-rendering="auto">.001</text>
<rect x="578.5" y="483.3" width="35.5" height="18.8" fill="none" stroke="#000" stroke-width="1"/>
<text transform="translate(595.9,499.2) scale(0.88,1)" font-size="17" text-anchor="middle" stroke="#000" stroke-width="1.15" shape-rendering="auto">.001</text>
</g>
</g>
<rect x="212.5" y="96" width="445.5" height="24.5" fill="#fefefc" stroke="#000" stroke-width="1" shape-rendering="crispEdges"/>
<text x="434.6" y="112.7" font-size="16.7" text-anchor="middle" textLength="438.5" lengthAdjust="spacingAndGlyphs" stroke="#000" stroke-width="0.35">Cloud + Ice water mixing ratio Contours: .001 to .1 by .099</text>
<rect x="79" y="96" width="579" height="413" fill="none" stroke="#000" stroke-width="2" shape-rendering="crispEdges"/>
<line x1="79" y1="509.0" x2="97" y2="509.0" stroke="#000" stroke-width="2" shape-rendering="crispEdges"/>
<text transform="translate(67.6,514.9) scale(1.06,1)" font-size="16.2" text-anchor="end" stroke="#000" stroke-width="0.35">0.0</text>
<line x1="79" y1="470.7" x2="97" y2="470.7" stroke="#000" stroke-width="2" shape-rendering="crispEdges"/>
<text transform="translate(67.6,476.6) scale(1.06,1)" font-size="16.2" text-anchor="end" stroke="#000" stroke-width="0.35">1.0</text>
<line x1="79" y1="432.4" x2="97" y2="432.4" stroke="#000" stroke-width="2" shape-rendering="crispEdges"/>
<text transform="translate(67.6,438.3) scale(1.06,1)" font-size="16.2" text-anchor="end" stroke="#000" stroke-width="0.35">2.0</text>
<line x1="79" y1="394.1" x2="97" y2="394.1" stroke="#000" stroke-width="2" shape-rendering="crispEdges"/>
<text transform="translate(67.6,400.0) scale(1.06,1)" font-size="16.2" text-anchor="end" stroke="#000" stroke-width="0.35">3.0</text>
<line x1="79" y1="355.8" x2="97" y2="355.8" stroke="#000" stroke-width="2" shape-rendering="crispEdges"/>
<text transform="translate(67.6,361.7) scale(1.06,1)" font-size="16.2" text-anchor="end" stroke="#000" stroke-width="0.35">4.0</text>
<line x1="79" y1="317.5" x2="97" y2="317.5" stroke="#000" stroke-width="2" shape-rendering="crispEdges"/>
<text transform="translate(67.6,323.4) scale(1.06,1)" font-size="16.2" text-anchor="end" stroke="#000" stroke-width="0.35">5.0</text>
<line x1="79" y1="279.2" x2="97" y2="279.2" stroke="#000" stroke-width="2" shape-rendering="crispEdges"/>
<text transform="translate(67.6,285.1) scale(1.06,1)" font-size="16.2" text-anchor="end" stroke="#000" stroke-width="0.35">6.0</text>
<line x1="79" y1="240.9" x2="97" y2="240.9" stroke="#000" stroke-width="2" shape-rendering="crispEdges"/>
<text transform="translate(67.6,246.8) scale(1.06,1)" font-size="16.2" text-anchor="end" stroke="#000" stroke-width="0.35">7.0</text>
<line x1="79" y1="202.6" x2="97" y2="202.6" stroke="#000" stroke-width="2" shape-rendering="crispEdges"/>
<text transform="translate(67.6,208.5) scale(1.06,1)" font-size="16.2" text-anchor="end" stroke="#000" stroke-width="0.35">8.0</text>
<line x1="79" y1="164.3" x2="97" y2="164.3" stroke="#000" stroke-width="2" shape-rendering="crispEdges"/>
<text transform="translate(67.6,170.2) scale(1.06,1)" font-size="16.2" text-anchor="end" stroke="#000" stroke-width="0.35">9.0</text>
<line x1="79" y1="126.0" x2="97" y2="126.0" stroke="#000" stroke-width="2" shape-rendering="crispEdges"/>
<text transform="translate(67.6,131.9) scale(1.06,1)" font-size="16.2" text-anchor="end" stroke="#000" stroke-width="0.35">10.0</text>
<line x1="79.0" y1="509" x2="79.0" y2="491" stroke="#000" stroke-width="2" shape-rendering="crispEdges"/>
<text transform="translate(79.3,532.8) scale(1.05,1)" font-size="16.2" text-anchor="middle" stroke="#000" stroke-width="0.35">-20.1</text>
<line x1="131.6" y1="509" x2="131.6" y2="491" stroke="#000" stroke-width="2" shape-rendering="crispEdges"/>
<text transform="translate(131.9,532.8) scale(1.05,1)" font-size="16.2" text-anchor="middle" stroke="#000" stroke-width="0.35">-16.9</text>
<line x1="184.3" y1="509" x2="184.3" y2="491" stroke="#000" stroke-width="2" shape-rendering="crispEdges"/>
<text transform="translate(184.6,532.8) scale(1.05,1)" font-size="16.2" text-anchor="middle" stroke="#000" stroke-width="0.35">-13.8</text>
<line x1="236.9" y1="509" x2="236.9" y2="491" stroke="#000" stroke-width="2" shape-rendering="crispEdges"/>
<text transform="translate(237.2,532.8) scale(1.05,1)" font-size="16.2" text-anchor="middle" stroke="#000" stroke-width="0.35">-10.6</text>
<line x1="289.5" y1="509" x2="289.5" y2="491" stroke="#000" stroke-width="2" shape-rendering="crispEdges"/>
<text transform="translate(289.8,532.8) scale(1.05,1)" font-size="16.2" text-anchor="middle" stroke="#000" stroke-width="0.35">-7.4</text>
<line x1="342.2" y1="509" x2="342.2" y2="491" stroke="#000" stroke-width="2" shape-rendering="crispEdges"/>
<text transform="translate(342.5,532.8) scale(1.05,1)" font-size="16.2" text-anchor="middle" stroke="#000" stroke-width="0.35">-4.2</text>
<line x1="394.8" y1="509" x2="394.8" y2="491" stroke="#000" stroke-width="2" shape-rendering="crispEdges"/>
<text transform="translate(395.1,532.8) scale(1.05,1)" font-size="16.2" text-anchor="middle" stroke="#000" stroke-width="0.35">-1.1</text>
<line x1="447.5" y1="509" x2="447.5" y2="491" stroke="#000" stroke-width="2" shape-rendering="crispEdges"/>
<text transform="translate(447.8,532.8) scale(1.05,1)" font-size="16.2" text-anchor="middle" stroke="#000" stroke-width="0.35">2.1</text>
<line x1="500.1" y1="509" x2="500.1" y2="491" stroke="#000" stroke-width="2" shape-rendering="crispEdges"/>
<text transform="translate(500.4,532.8) scale(1.05,1)" font-size="16.2" text-anchor="middle" stroke="#000" stroke-width="0.35">5.3</text>
<line x1="552.7" y1="509" x2="552.7" y2="491" stroke="#000" stroke-width="2" shape-rendering="crispEdges"/>
<text transform="translate(553.0,532.8) scale(1.05,1)" font-size="16.2" text-anchor="middle" stroke="#000" stroke-width="0.35">8.4</text>
<line x1="605.4" y1="509" x2="605.4" y2="491" stroke="#000" stroke-width="2" shape-rendering="crispEdges"/>
<text transform="translate(605.7,532.8) scale(1.05,1)" font-size="16.2" text-anchor="middle" stroke="#000" stroke-width="0.35">11.6</text>
<line x1="658.0" y1="509" x2="658.0" y2="491" stroke="#000" stroke-width="2" shape-rendering="crispEdges"/>
<text transform="translate(658.3,532.8) scale(1.05,1)" font-size="16.2" text-anchor="middle" stroke="#000" stroke-width="0.35">14.8</text>
<text transform="translate(79,13.6) scale(1.035,1)" font-size="15.8" stroke="#000" stroke-width="0.35">W-E at 0S</text>
<text x="658" y="11.5" font-size="10.8" text-anchor="end" stroke="#000" stroke-width="0.55">Init: 2018-09-25_00:00:00</text>
<text x="658" y="23.3" font-size="10.8" text-anchor="end" stroke="#000" stroke-width="0.55">Valid: 2018-10-01_03:00:00</text>
<text x="81.5" y="59.5" font-size="10.85" stroke="#000" stroke-width="0.6">550nm Extinction&#160;&#160; (1/Mm)</text>
<text x="81.5" y="71.6" font-size="10.85" stroke="#000" stroke-width="0.6">Cloud + Ice water mixing ratio&#160;&#160; (g/kg)</text>
<text x="81.5" y="83.8" font-size="10.85" stroke="#000" stroke-width="0.6">Main</text>
<text x="658" y="91.7" font-size="9.8" text-anchor="end" stroke="#000" stroke-width="0.5">Cross-Section: (130,420) to (454,420)</text>
<text transform="translate(16.2,302) rotate(-90)" font-size="22.7" text-anchor="middle" stroke="#000" stroke-width="0.4">Height (km)</text>
<text x="368" y="563.5" font-size="22.7" text-anchor="middle" stroke="#000" stroke-width="0.4">longitude</text>
<text transform="translate(368.5,610.3) scale(1.06,1)" font-size="16.2" text-anchor="middle" stroke="#000" stroke-width="0.35">550nm Extinction&#160; (1/Mm)</text>
<rect x="170.5" y="617.5" width="30.0" height="20" fill="#fefefc" stroke="#000" stroke-width="1" shape-rendering="crispEdges"/>
<rect x="200.5" y="617.5" width="31.0" height="20" fill="#aaaaff" stroke="#000" stroke-width="1" shape-rendering="crispEdges"/>
<rect x="231.5" y="617.5" width="30.0" height="20" fill="#5555ff" stroke="#000" stroke-width="1" shape-rendering="crispEdges"/>
<rect x="261.5" y="617.5" width="31.0" height="20" fill="#0000ff" stroke="#000" stroke-width="1" shape-rendering="crispEdges"/>
<rect x="292.5" y="617.5" width="30.0" height="20" fill="#0033bb" stroke="#000" stroke-width="1" shape-rendering="crispEdges"/>
<rect x="322.5" y="617.5" width="31.0" height="20" fill="#007766" stroke="#000" stroke-width="1" shape-rendering="crispEdges"/>
<rect x="353.5" y="617.5" width="30.0" height="20" fill="#00aa22" stroke="#000" stroke-width="1" shape-rendering="crispEdges"/>
<rect x="383.5" y="617.5" width="31.0" height="20" fill="#55cc11" stroke="#000" stroke-width="1" shape-rendering="crispEdges"/>
<rect x="414.5" y="617.5" width="30.0" height="20" fill="#aae611" stroke="#000" stroke-width="1" shape-rendering="crispEdges"/>
<rect x="444.5" y="617.5" width="31.0" height="20" fill="#ffff00" stroke="#000" stroke-width="1" shape-rendering="crispEdges"/>
<rect x="475.5" y="617.5" width="30.0" height="20" fill="#ffbb00" stroke="#000" stroke-width="1" shape-rendering="crispEdges"/>
<rect x="505.5" y="617.5" width="31.0" height="20" fill="#ff5500" stroke="#000" stroke-width="1" shape-rendering="crispEdges"/>
<rect x="536.5" y="617.5" width="30.0" height="20" fill="#ff0000" stroke="#000" stroke-width="1" shape-rendering="crispEdges"/>
<text transform="translate(200.8,665.6) scale(1.05,1)" font-size="16.2" text-anchor="middle" stroke="#000" stroke-width="0.35">2</text>
<text transform="translate(261.8,665.6) scale(1.05,1)" font-size="16.2" text-anchor="middle" stroke="#000" stroke-width="0.35">10</text>
<text transform="translate(322.8,665.6) scale(1.05,1)" font-size="16.2" text-anchor="middle" stroke="#000" stroke-width="0.35">50</text>
<text transform="translate(383.8,665.6) scale(1.05,1)" font-size="16.2" text-anchor="middle" stroke="#000" stroke-width="0.35">200</text>
<text transform="translate(444.8,665.6) scale(1.05,1)" font-size="16.2" text-anchor="middle" stroke="#000" stroke-width="0.35">400</text>
<text transform="translate(505.8,665.6) scale(1.05,1)" font-size="16.2" text-anchor="middle" stroke="#000" stroke-width="0.35">600</text>
</svg></body></html>
